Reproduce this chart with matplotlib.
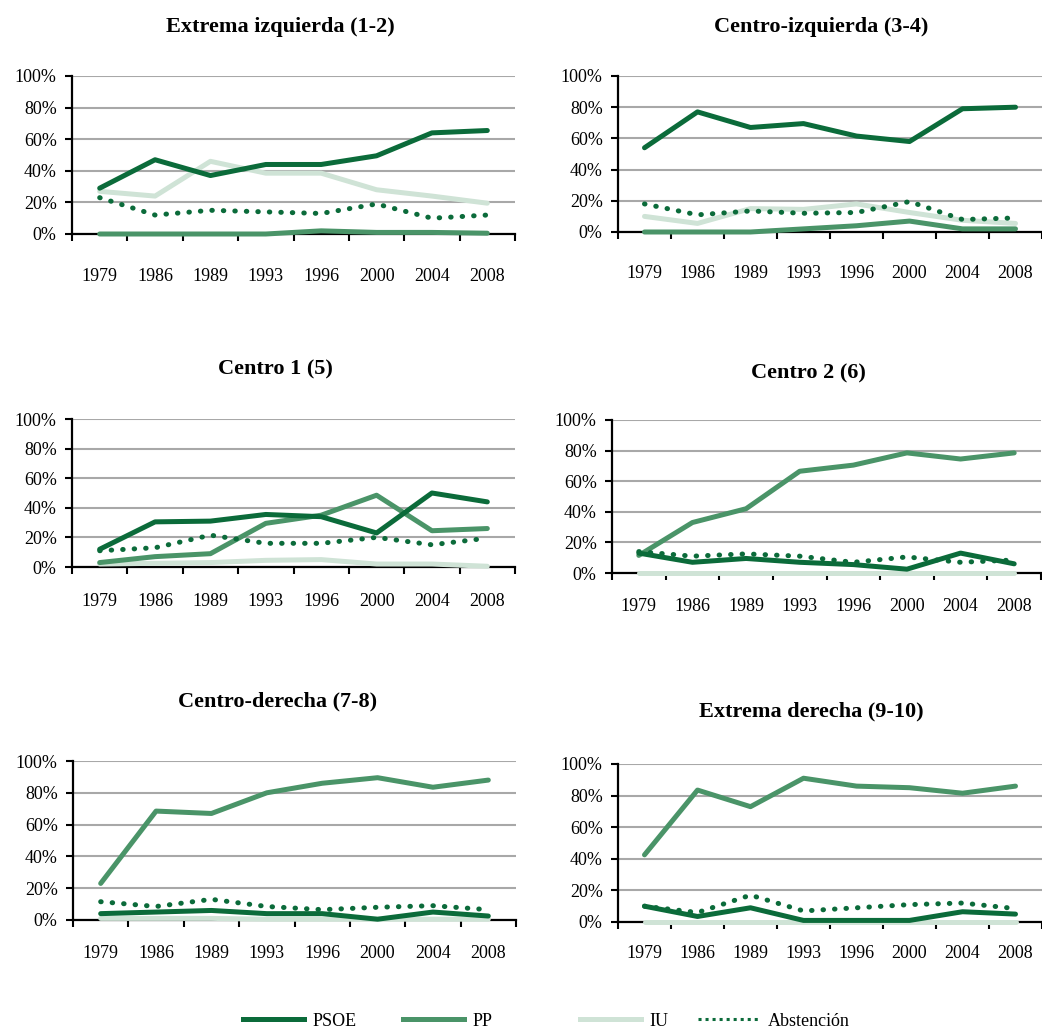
import matplotlib
matplotlib.use('Agg')
import matplotlib.pyplot as plt
from matplotlib.ticker import PercentFormatter

plt.rcParams['font.family'] = ['Liberation Serif', 'DejaVu Serif']

years = ['1979', '1986', '1989', '1993', '1996', '2000', '2004', '2008']

# Extrema izquierda (1-2)
ei_psoe = [29, 47, 37, 44, 44, 49.5, 64, 65.5]
ei_pp = [0, 0, 0, 0, 2, 1, 1, 0.5]
ei_iu = [27, 24, 46, 38.5, 38.5, 28, 24, 19.5]
ei_abs = [23, 12, 15, 14, 13, 19, 10, 12]

# Centro-izquierda (3-4)
ci_psoe = [54, 77, 67, 69.5, 61.5, 58, 79, 80]
ci_pp = [0, 0, 0, 2, 4, 7, 2, 2]
ci_iu = [10, 5.5, 15, 14.5, 18, 12.5, 7.5, 5.5]
ci_abs = [18, 11, 13.5, 12, 12.5, 19.5, 8, 9]

# Centro 1 (5)
c1_psoe = [12, 30.5, 31, 35.5, 34, 23, 50, 44]
c1_pp = [3, 7, 9, 29.5, 35, 48.5, 24.5, 26]
c1_iu = [2, 2.5, 3, 4.5, 5, 2, 2, 0.5]
c1_abs = [11, 13, 21.5, 16, 16, 20, 15, 19.5]

# Centro 2 (6)
c2_psoe = [13, 7, 9.5, 7, 5.5, 2.5, 13, 6]
c2_pp = [11.5, 33, 42, 66.5, 70.5, 78.5, 74.5, 78.5]
c2_iu = [0, 0, 0, 0, 0, 0, 0, 0]
c2_abs = [14, 11, 12.5, 11, 7, 10.5, 7, 8.5]

# Centro-derecha (7-8)
cd_psoe = [4, 5, 6, 4, 4, 0.5, 5, 2.5]
cd_pp = [23, 68.5, 67, 80, 86, 89.5, 83.5, 88]
cd_iu = [1, 1, 1, 0.5, 0.5, 0.5, 0.5, 0.5]
cd_abs = [11.5, 8.5, 13, 8.5, 6.5, 8, 9, 6.5]

# Extrema derecha (9-10)
ed_psoe = [10, 3.5, 9, 1, 1, 1, 6.5, 5]
ed_pp = [42.5, 83.5, 73, 91, 86, 85, 81.5, 86]
ed_iu = [0, 0, 0, 0, 0, 0, 0, 0]
ed_abs = [10, 6, 17, 7, 9, 11, 12, 8.5]

panels = [
    ('Extrema izquierda (1-2)', ei_psoe, ei_pp, ei_iu, ei_abs),
    ('Centro-izquierda (3-4)', ci_psoe, ci_pp, ci_iu, ci_abs),
    ('Centro 1 (5)', c1_psoe, c1_pp, c1_iu, c1_abs),
    ('Centro 2 (6)', c2_psoe, c2_pp, c2_iu, c2_abs),
    ('Centro-derecha (7-8)', cd_psoe, cd_pp, cd_iu, cd_abs),
    ('Extrema derecha (9-10)', ed_psoe, ed_pp, ed_iu, ed_abs),
]

# pixel boxes: left, right, top, bottom, title x, title y, x-label pad (px)
boxes = [
    (72, 515, 76, 234, 280, 27, 34),
    (618, 1042, 76, 232, 821, 27, 33),
    (72, 515, 419, 567, 275, 369, 26),
    (612, 1041, 420, 573, 808, 373, 25),
    (73, 516, 761, 920, 278, 701, 25),
    (618, 1042, 764, 922, 811, 711, 23),
]

c_psoe = '#0b6b3a'
c_pp = '#4a9468'
c_iu = '#cfe3d6'

W, H = 1042, 1028
fig = plt.figure(figsize=(W / 100, H / 100), dpi=100)

x = list(range(len(years)))
for (title, psoe, pp, iu, ab), (l, r, t, b, tx, ty, pad) in zip(panels, boxes):
    ax = fig.add_axes([l / W, 1 - b / H, (r - l) / W, (b - t) / H])
    kw = dict(lw=3.6, solid_capstyle='round', solid_joinstyle='round', clip_on=False)
    ax.plot(x, [v / 100 for v in iu], color=c_iu, zorder=3, **kw)
    ax.plot(x, [v / 100 for v in pp], color=c_pp, zorder=4, **kw)
    ax.plot(x, [v / 100 for v in psoe], color=c_psoe, zorder=5, **kw)
    ax.plot(x, [v / 100 for v in ab], color=c_psoe, lw=3.6, linestyle=(0, (0.1, 2.2)),
            dash_capstyle='round', zorder=6, clip_on=False)
    ax.set_xlim(-0.5, len(years) - 0.5)
    ax.set_ylim(0, 1)
    ax.set_yticks([0, 0.2, 0.4, 0.6, 0.8, 1.0])
    ax.yaxis.set_major_formatter(PercentFormatter(1.0, decimals=0))
    ax.set_xticks(x)
    ax.set_xticklabels(years)
    ax.set_xticks([i - 0.5 for i in range(len(years) + 1)], minor=True)
    ax.tick_params(axis='x', which='major', length=0, pad=pad * 0.72, labelsize=13)
    ax.tick_params(axis='x', which='minor', length=5, width=1.5, direction='out')
    ax.tick_params(axis='y', length=5, width=1.5, direction='out', pad=6, labelsize=13)
    ax.grid(axis='y', color='#a8a8a8', lw=1.5)
    ax.set_axisbelow(True)
    for s in ['top', 'right']:
        ax.spines[s].set_visible(False)
    for s in ['left', 'bottom']:
        ax.spines[s].set_linewidth(1.6)
        ax.spines[s].set_zorder(2)
    fig.text(tx / W, 1 - ty / H, title, ha='center', va='center',
             fontsize=16, fontweight='bold')

# legend entries, each placed where it sits in the original
legend_items = [
    (plt.Line2D([], [], color=c_psoe, lw=3.6), 'PSOE', 243),
    (plt.Line2D([], [], color=c_pp, lw=3.6), 'PP', 403),
    (plt.Line2D([], [], color=c_iu, lw=3.6), 'IU', 580),
    (plt.Line2D([], [], color=c_psoe, lw=2.2, linestyle=(0, (1, 1.3))), 'Abstención', 698),
]
for h, lab, xl in legend_items:
    fig.legend([h], [lab], loc='center left', bbox_to_anchor=(xl / W, 1 - 1021 / H),
               frameon=False, fontsize=13, handlelength=3.4, handletextpad=0.45,
               borderpad=0, borderaxespad=0)

fig.savefig('out.png', dpi=100)
